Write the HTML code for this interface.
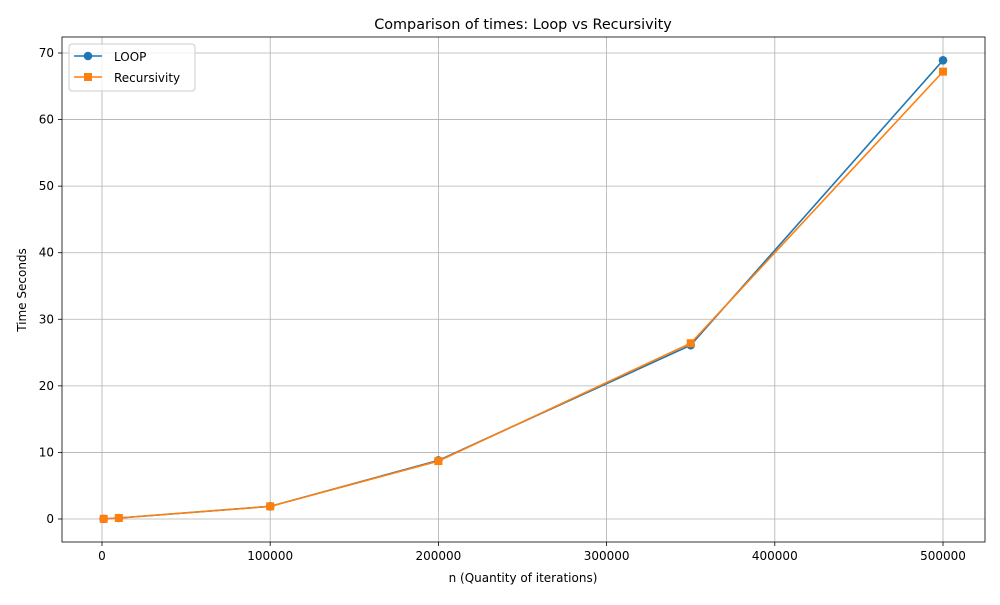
<!DOCTYPE html>
<html><head><meta charset="utf-8"><style>
body{margin:0;background:#fff;font-family:"Liberation Sans","DejaVu Sans",sans-serif;}
svg text{font-family:"DejaVu Sans","Liberation Sans",sans-serif;}
</style></head><body>
<svg id="chart" width="1000" height="600" xmlns="http://www.w3.org/2000/svg"></svg>
<script>
const categories = [1000, 10000, 100000, 200000, 350000, 500000];
const loopValues = [0.02, 0.15, 1.9, 8.8, 26.1, 68.9];
const recursivityValues = [0.02, 0.15, 1.9, 8.7, 26.4, 67.2];
const xTicks = [0, 100000, 200000, 300000, 400000, 500000];
const yTicks = [0, 10, 20, 30, 40, 50, 60, 70];

const NS = "http://www.w3.org/2000/svg";
const svg = document.getElementById('chart');
const L = 62, R = 985, T = 37, B = 542;
const xs = v => 102 + v * (943 - 102) / 500000;
const ys = v => 519 - v * (519 - 53) / 70;
function el(tag, attrs, parent) {
  const e = document.createElementNS(NS, tag);
  for (const k in attrs) e.setAttribute(k, attrs[k]);
  (parent || svg).appendChild(e);
  return e;
}
// grid
xTicks.forEach(t => {
  const g = el('line', {x1: xs(t), x2: xs(t), y1: T, y2: B, stroke: '#b0b0b0', 'stroke-width': 0.8});
  
  
  const tk = el('line', {x1: xs(t), x2: xs(t), y1: B, y2: B + 4, stroke: '#000', 'stroke-width': 0.8});
  
  
  const tx = el('text', {x: xs(t), y: B + 18, 'text-anchor': 'middle', 'font-size': 12});
  tx.textContent = t;
  
  
});
yTicks.forEach(t => {
  const g = el('line', {x1: L, x2: R, y1: ys(t), y2: ys(t), stroke: '#b0b0b0', 'stroke-width': 0.8});
  
  
  const tk = el('line', {x1: L - 4, x2: L, y1: ys(t), y2: ys(t), stroke: '#000', 'stroke-width': 0.8});
  
  
  const tx = el('text', {x: L - 8, y: ys(t) + 4, 'text-anchor': 'end', 'font-size': 12});
  tx.textContent = t;
  
  
});
// series
function series(vals, color, marker, name) {
  const g = el('g', {});
  
  
  const pts = categories.map((c, i) => xs(c) + ',' + ys(vals[i])).join(' ');
  el('polyline', {points: pts, fill: 'none', stroke: color, 'stroke-width': 1.6}, g);
  categories.forEach((c, i) => {
    let m;
    if (marker === 'circle') m = el('circle', {cx: xs(c), cy: ys(vals[i]), r: 4.3, fill: color}, g);
    else m = el('rect', {x: xs(c) - 4, y: ys(vals[i]) - 4, width: 8, height: 8, fill: color}, g);
    
    
  });
}
series(loopValues, '#1f77b4', 'circle', 'loop-series');
series(recursivityValues, '#ff7f0e', 'square', 'recursivity-series');
// frame
const fr = el('rect', {x: L, y: T, width: R - L, height: B - T, fill: 'none', stroke: '#000', 'stroke-width': 0.8});


</script>
<svg style="position:absolute;left:0;top:0" width="1000" height="600">
<text x="523" y="29" text-anchor="middle" font-size="14.4">Comparison of times: Loop vs Recursivity</text>
<text x="523" y="582" text-anchor="middle" font-size="12">n (Quantity of iterations)</text>
<text transform="translate(26,290) rotate(-90)" text-anchor="middle" font-size="12">Time Seconds</text>
<g>
<rect x="69" y="44" width="126" height="47" rx="3" fill="#fff" fill-opacity="0.8" stroke="#ccc"/>
<g>
<line x1="74" x2="102" y1="56" y2="56" stroke="#1f77b4" stroke-width="1.6"/><circle cx="88" cy="56" r="4.3" fill="#1f77b4"/>
<text x="114" y="61" font-size="12">LOOP</text></g>
<g>
<line x1="74" x2="102" y1="77" y2="77" stroke="#ff7f0e" stroke-width="1.6"/><rect x="84" y="73" width="8" height="8" fill="#ff7f0e"/>
<text x="114" y="82" font-size="12">Recursivity</text></g>
</g>
</svg>
</body></html>
